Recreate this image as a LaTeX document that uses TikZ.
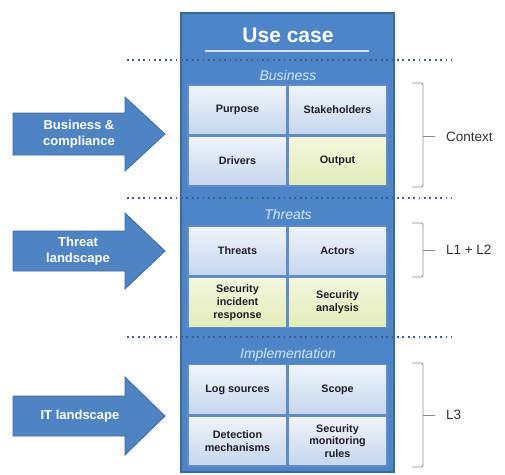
\documentclass[tikz,border=0pt]{standalone}
\usepackage{fontspec}
\setmainfont{Liberation Sans}
\begin{document}
\begin{tikzpicture}[x=1pt,y=-1pt,
  every node/.style={inner sep=0pt, outer sep=0pt},
  panelfill/.style={fill=panelblue, draw=paneledge, line width=1.2pt},
  inputarrow/.style={fill=arrowblue, draw=arrowedge, line width=0.8pt, line join=miter},
  arrowtext/.style={text=white, align=center, font=\bfseries\fontsize{13}{15.5}\selectfont},
  sectlabel/.style={text=sectblue, font=\itshape\fontsize{14}{16}\selectfont},
  cellbase/.style={minimum width=99pt, minimum height=50pt, draw=gridline, line width=1.1pt,
    align=center, text=celltext, font=\bfseries\fontsize{10.8}{12.8}\selectfont},
  bluecell/.style={cellbase, top color=cellbluetop, bottom color=cellbluebot},
  greencell/.style={cellbase, top color=cellgreentop, bottom color=cellgreenbot},
  sepline/.style={draw=dotblue, line width=1.8pt, dash pattern=on 1.8pt off 3.6pt},
  bracket/.style={draw=bracketgray, line width=0.8pt, rounded corners=2pt},
  levellabel/.style={anchor=west, text=labelgray, font=\fontsize{13.5}{16}\selectfont}
]
\definecolor{panelblue}{RGB}{76,134,200}
\definecolor{paneledge}{RGB}{58,104,160}
\definecolor{arrowblue}{RGB}{79,132,196}
\definecolor{arrowedge}{RGB}{62,106,160}
\definecolor{sectblue}{RGB}{214,230,248}
\definecolor{gridline}{RGB}{98,140,200}
\definecolor{cellbluetop}{RGB}{240,244,250}
\definecolor{cellbluebot}{RGB}{196,214,238}
\definecolor{cellgreentop}{RGB}{243,247,222}
\definecolor{cellgreenbot}{RGB}{226,236,184}
\definecolor{celltext}{RGB}{30,30,40}
\definecolor{dotblue}{RGB}{64,92,140}
\definecolor{bracketgray}{RGB}{140,140,140}
\definecolor{labelgray}{RGB}{50,50,50}

\useasboundingbox (0,0) rectangle (505,474);
\fill[white] (0,0) rectangle (505,474);

% central use case panel
\draw[panelfill] (181,13) rectangle (394,472);
\node[text=white, font=\bfseries\fontsize{21}{24}\selectfont] (title) at (288,35) {Use case};
\coordinate (ulA) at (205,51);
\coordinate (ulB) at (369,51);
\draw[white!75!panelblue, line width=1.3pt] (ulA) -- (ulB);

% dotted separators between the three layers
\coordinate (s1a) at (127,60);  \coordinate (s1b) at (452,60);
\coordinate (s2a) at (127,198); \coordinate (s2b) at (452,198);
\coordinate (s3a) at (127,337); \coordinate (s3b) at (452,337);
\draw[sepline] (s1a) -- (s1b);
\draw[sepline] (s2a) -- (s2b);
\draw[sepline] (s3a) -- (s3b);

% section headings
\node[sectlabel] (hbus) at (288,75) {Business};
\node[sectlabel] (hthr) at (288,214) {Threats};
\node[sectlabel] (himp) at (288,355) {Implementation};

% business cells
\node[bluecell]  (purpose) at (237.5,110) {Purpose};
\node[bluecell]  (stake)   at (337.5,110) {Stakeholders};
\node[bluecell]  (drivers) at (237.5,161) {Drivers};
\node[greencell] (output)  at (337.5,161) {Output};

% threat cells
\node[bluecell]  (threats) at (237.5,251) {Threats};
\node[bluecell]  (actors)  at (337.5,251) {Actors};
\node[greencell] (sir)     at (237.5,302.5) {Security\\incident\\response};
\node[greencell] (sana)    at (337.5,302.5) {Security\\analysis};

% implementation cells
\node[bluecell] (logs)  at (237.5,389.5) {Log sources};
\node[bluecell] (scope) at (337.5,389.5) {Scope};
\node[bluecell] (detm)  at (237.5,441) {Detection\\mechanisms};
\node[bluecell] (smr)   at (337.5,441) {Security\\monitoring\\rules};

% input arrows on the left
\draw[inputarrow] (13,113) -- (125,113) -- (125,97) -- (165,134) -- (125,171) -- (125,155) -- (13,155) -- cycle;
\node[arrowtext] (abus) at (79,134) {Business \&\\compliance};
\draw[inputarrow] (13,231) -- (125,231) -- (125,213) -- (165,251) -- (125,289) -- (125,271) -- (13,271) -- cycle;
\node[arrowtext] (athr) at (78,251) {Threat\\landscape};
\draw[inputarrow] (13,396) -- (125,396) -- (125,377) -- (165,416) -- (125,455) -- (125,436) -- (13,436) -- cycle;
\node[arrowtext] (ait) at (80,416) {IT landscape};

% level brackets on the right
\draw[bracket] (412,83) -- (423,83) -- (423,187) -- (412,187);
\draw[bracket] (423,136) -- (435,136);
\node[levellabel] (lctx) at (446,137) {Context};
\draw[bracket] (412,223) -- (423,223) -- (423,277) -- (412,277);
\draw[bracket] (423,250) -- (435,250);
\node[levellabel] (l12) at (446,250) {L1 + L2};
\draw[bracket] (412,363) -- (423,363) -- (423,467) -- (412,467);
\draw[bracket] (423,415) -- (435,415);
\node[levellabel] (l3) at (446,415) {L3};
\end{tikzpicture}
\end{document}
